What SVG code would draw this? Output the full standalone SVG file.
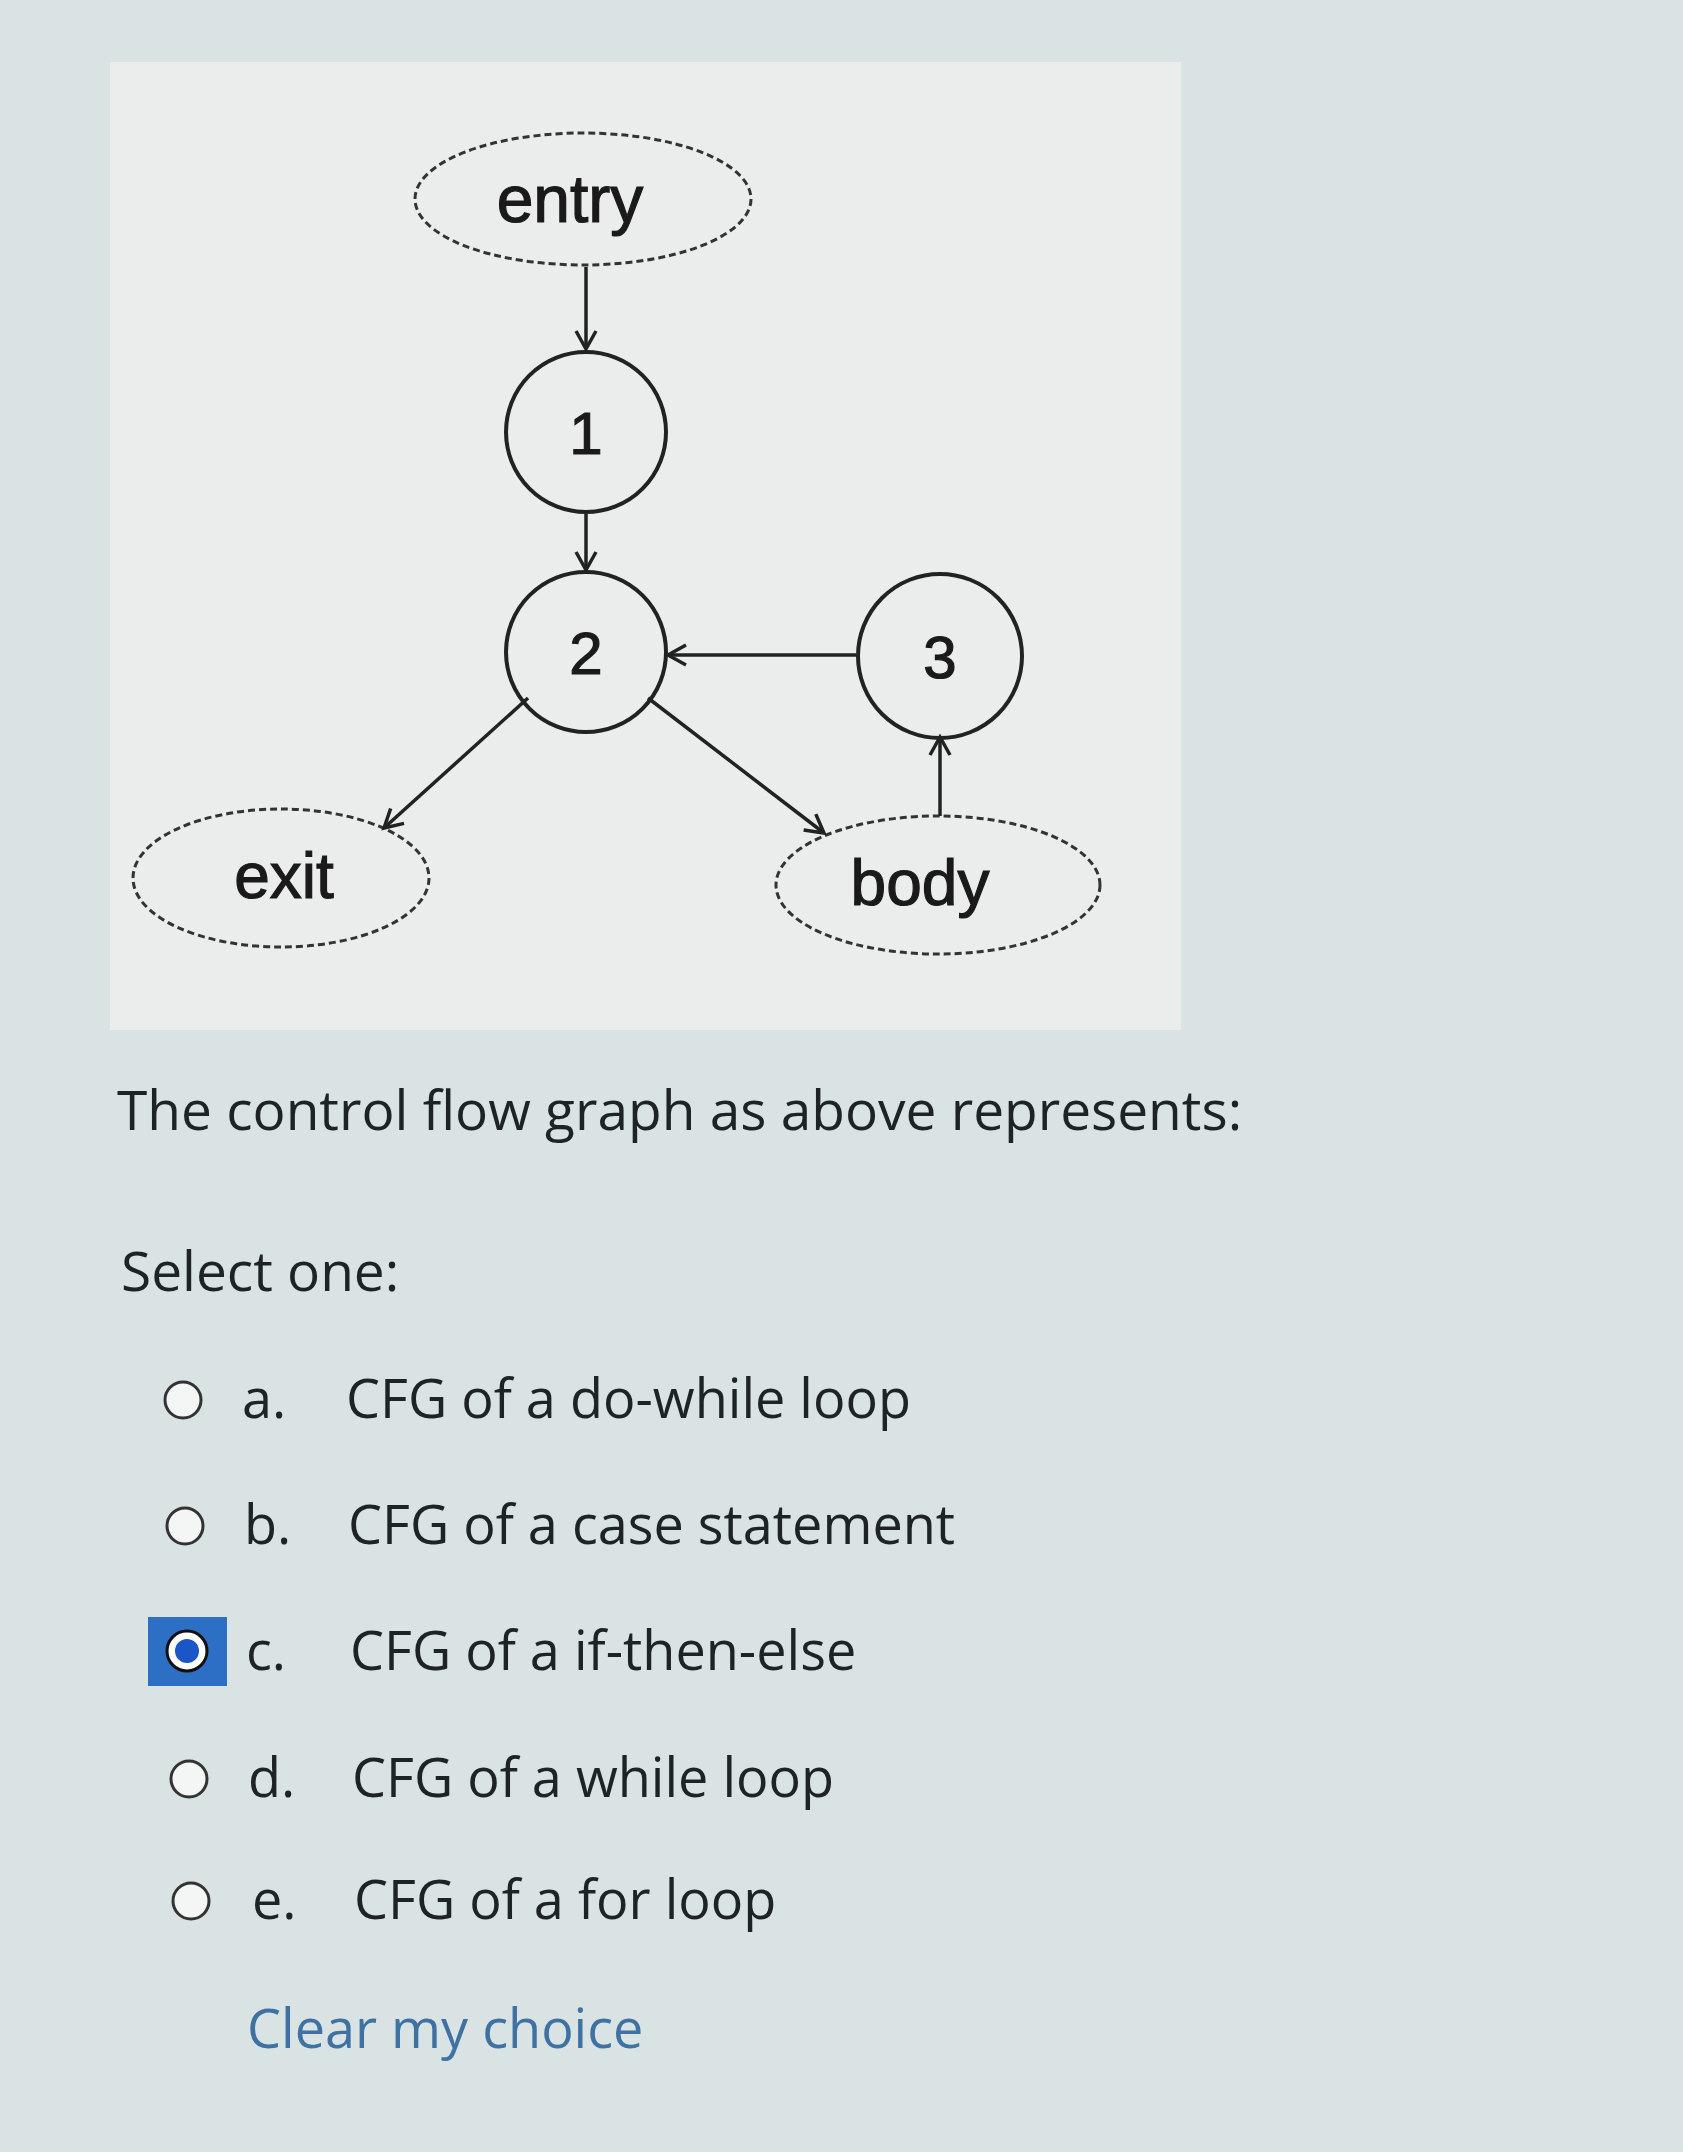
<svg xmlns="http://www.w3.org/2000/svg" width="1683" height="2152" viewBox="0 0 1683 2152">
<style>
.n{fill:none;stroke:#222;stroke-width:4}
.d{fill:none;stroke:#333;stroke-width:3;stroke-dasharray:7 4}
.t{font-family:"Liberation Sans",Arial,sans-serif;fill:#1a1a1a;text-anchor:middle;stroke:#1a1a1a;stroke-width:1.2}
.e{stroke:#222;stroke-width:3.5;fill:none;marker-end:url(#a)}
.q{font-family:"Open Sans","Noto Sans",sans-serif;fill:#1e2426}
.r{fill:#f4f6f6;stroke:#333;stroke-width:3}
</style>
<defs><marker id="a" markerWidth="30" markerHeight="30" refX="20" refY="12" orient="auto" markerUnits="userSpaceOnUse"><path d="M2,2 L20,12 L2,22" fill="none" stroke="#222" stroke-width="3.5"/></marker></defs>
<rect width="1683" height="2152" fill="#d9e3e3"/>
<rect x="110" y="62" width="1071" height="968" fill="#ebedec"/>
<g id="entry"><ellipse class="d" cx="583" cy="199" rx="168" ry="66"/><text class="t" x="570" y="222" font-size="66">entry</text></g>
<g id="n1"><circle class="n" cx="586" cy="432" r="80"/><text class="t" x="586" y="454" font-size="60">1</text></g>
<g id="n2"><circle class="n" cx="586" cy="652" r="80"/><text class="t" x="586" y="674" font-size="60">2</text></g>
<g id="n3"><circle class="n" cx="940" cy="656" r="82"/><text class="t" x="940" y="678" font-size="60">3</text></g>
<g id="exit"><ellipse class="d" cx="281" cy="878" rx="148" ry="69"/><text class="t" x="284" y="898" font-size="64">exit</text></g>
<g id="body"><ellipse class="d" cx="938" cy="885" rx="162" ry="69"/><text class="t" x="920" y="905" font-size="64">body</text></g>
<g id="edges">
<line class="e" x1="586" y1="267" x2="586" y2="349"/>
<line class="e" x1="586" y1="514" x2="586" y2="570"/>
<line class="e" x1="856" y1="655" x2="668" y2="655"/>
<line class="e" x1="528" y1="698" x2="384" y2="828"/>
<line class="e" x1="648" y1="698" x2="824" y2="833"/>
<line class="e" x1="940" y1="816" x2="940" y2="737"/>
</g>
<text class="q" x="117" y="1130" font-size="55">The control flow graph as above represents:</text>
<text class="q" x="121" y="1291" font-size="55">Select one:</text>
<g font-size="54">
<circle class="r" cx="183" cy="1400" r="18"/><text class="q" x="242" y="1418">a.</text><text class="q" x="346" y="1418">CFG of a do-while loop</text>
<circle class="r" cx="185" cy="1526" r="18"/><text class="q" x="244" y="1544">b.</text><text class="q" x="348" y="1544">CFG of a case statement</text>
<rect x="148" y="1617" width="79" height="69" fill="#2d6fc4"/><circle cx="187" cy="1651" r="20" fill="#fff" stroke="#111" stroke-width="3"/><circle cx="187" cy="1651" r="12" fill="#1a56c8"/>
<text class="q" x="246" y="1670">c.</text><text class="q" x="350" y="1670">CFG of a if-then-else</text>
<circle class="r" cx="189" cy="1779" r="18"/><text class="q" x="248" y="1797">d.</text><text class="q" x="352" y="1797">CFG of a while loop</text>
<circle class="r" cx="191" cy="1901" r="18"/><text class="q" x="252" y="1919">e.</text><text class="q" x="354" y="1919">CFG of a for loop</text>
<text class="q" x="247" y="2048" style="fill:#3f72a3">Clear my choice</text>
</g>
</svg>
